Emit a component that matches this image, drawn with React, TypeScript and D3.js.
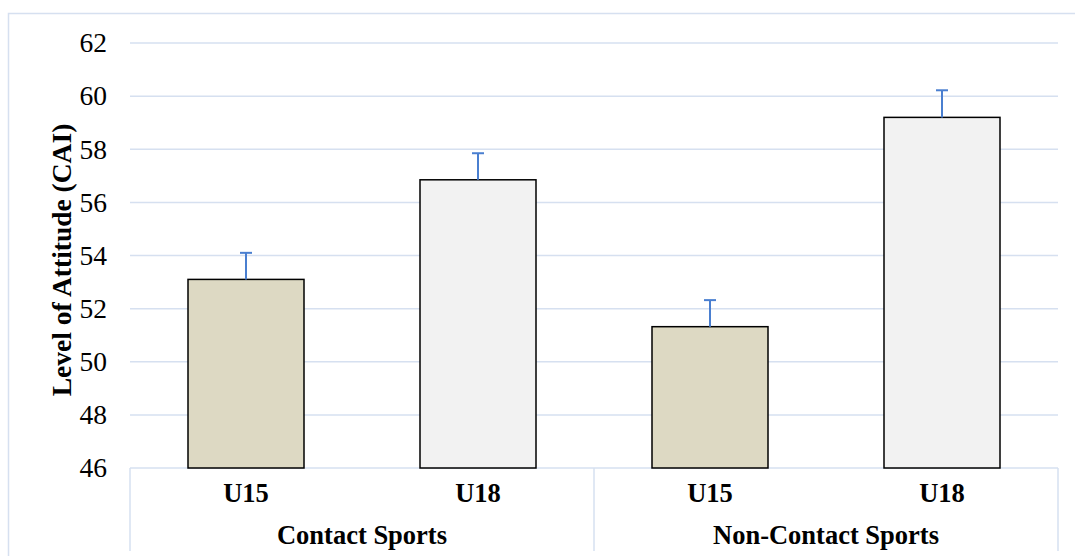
import * as d3 from "d3";

const groups = ["Contact Sports", "Non-Contact Sports"];
const ages = ["U15", "U18"];
const means = [53.1, 56.85, 51.32, 59.2];
const errors = [1.0, 1.0, 1.0, 1.02];
const yTicks = [46, 48, 50, 52, 54, 56, 58, 60, 62];
const yLabel = "Level of Attitude (CAI)";

const W = 1075;
const H = 556;
const left = 130;
const right = 1058;
const top = 43;
const bottom = 468;
const axisBottom = 551;

const fills: Record<string, string> = { U15: "#ddd9c3", U18: "#f2f2f2" };
const lineColor = "#d6e0f0";
const font = "Liberation Serif";

export default function App() {
  const keys = groups.flatMap((g) => ages.map((a) => `${g}|${a}`));

  const x = d3
    .scaleBand()
    .domain(keys)
    .range([left, right])
    .paddingInner(0.5)
    .paddingOuter(0.25);

  const gx = d3.scaleBand().domain(groups).range([left, right]);

  const y = d3.scaleLinear().domain([46, 62]).range([bottom, top]);

  return (
    <svg
      width={W}
      height={H}
      style={{ position: "absolute", left: 0, top: 0, background: "#fff", fontFamily: font }}
    >
      <rect
        x={8.5}
        y={13.5}
        width={W + 10}
        height={H + 10}
        fill="none"
        stroke={lineColor}
        strokeWidth={1.5}
      />

      {yTicks.map((t) => (
        <g key={t}>
          <line
            x1={left}
            x2={right}
            y1={y(t)}
            y2={y(t)}
            stroke={lineColor}
            strokeWidth={1.5}
          />
          <text
            x={107}
            y={y(t)}
            dy="0.34em"
            textAnchor="end"
            fontSize={27.5}
            fill="#000"
          >
            {t}
          </text>
        </g>
      ))}

      {/* category axis box */}
      {[left, gx(groups[1]) ?? 0, right].map((xx, i) => (
        <line
          key={i}
          x1={xx}
          x2={xx}
          y1={bottom}
          y2={axisBottom}
          stroke={lineColor}
          strokeWidth={1.5}
        />
      ))}

      {keys.map((k, i) => {
        const age = k.split("|")[1];
        const bx = x(k) ?? 0;
        const cx = bx + x.bandwidth() / 2;
        const yt = y(means[i]);
        const ye = y(means[i] + errors[i]);
        return (
          <g key={k}>
            <rect
              x={bx}
              y={yt}
              width={x.bandwidth()}
              height={bottom - yt}
              fill={fills[age]}
              stroke="#000"
              strokeWidth={1.5}
            />
            <line x1={cx} x2={cx} y1={yt} y2={ye} stroke="#4a7fd0" strokeWidth={2} />
            <line x1={cx - 6} x2={cx + 6} y1={ye} y2={ye} stroke="#4a7fd0" strokeWidth={2} />
            <text
              x={cx}
              y={502}
              textAnchor="middle"
              fontWeight="bold"
              fontSize={26.5}
            >
              {age}
            </text>
          </g>
        );
      })}

      {groups.map((g) => (
        <text
          key={g}
          x={(gx(g) ?? 0) + gx.bandwidth() / 2}
          y={544}
          textAnchor="middle"
          fontWeight="bold"
          fontSize={26.5}
        >
          {g}
        </text>
      ))}

      <text
        transform={`translate(71, 260) rotate(-90)`}
        textAnchor="middle"
        fontWeight="bold"
        fontSize={27.5}
      >
        {yLabel}
      </text>
    </svg>
  );
}
